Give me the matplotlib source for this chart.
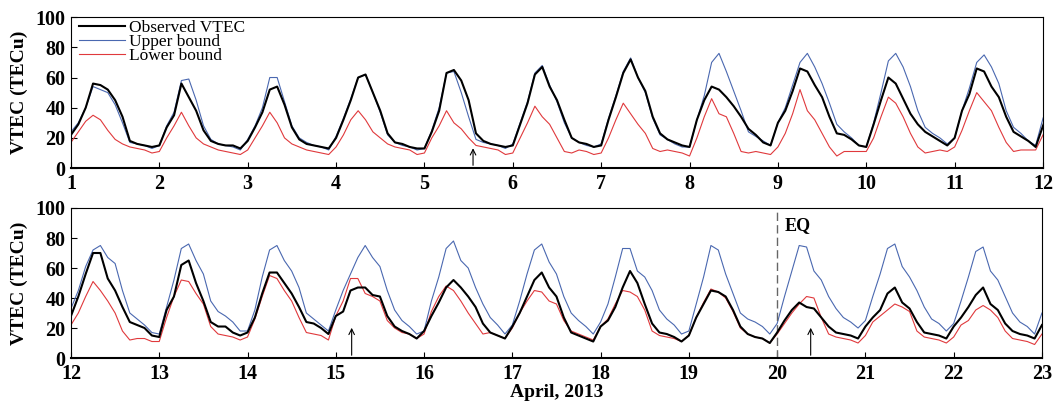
import numpy as np
import matplotlib.pyplot as plt

# 2-hourly VTEC values (TECu), 1-23 April 2013, 12 samples per day + last point
observed = [
    22, 29, 40, 56, 55, 52, 45, 34, 18, 16, 15, 14,   # 1
    15, 27, 35, 56, 47, 38, 25, 18, 16, 15, 15, 13,   # 2
    18, 27, 37, 52, 54, 42, 27, 19, 16, 15, 14, 13,   # 3
    20, 32, 45, 60, 62, 50, 38, 23, 17, 16, 14, 13,   # 4
    13, 24, 38, 63, 65, 58, 45, 23, 18, 16, 15, 14,   # 5
    15, 29, 43, 62, 67, 54, 45, 32, 20, 17, 16, 14,   # 6
    15, 32, 47, 63, 72, 60, 51, 34, 23, 19, 17, 15,   # 7
    14, 32, 45, 54, 52, 47, 41, 34, 26, 22, 17, 15,   # 8
    30, 38, 51, 66, 64, 55, 47, 34, 23, 22, 19, 15,   # 9
    14, 29, 45, 60, 56, 46, 36, 29, 24, 21, 18, 15,   # 10
    20, 38, 49, 66, 64, 54, 47, 34, 24, 21, 18, 14,   # 11
    28, 41, 56, 70, 70, 53, 45, 34, 24, 22, 20, 15,   # 12
    14, 32, 41, 62, 65, 50, 38, 24, 21, 21, 17, 15,   # 13
    17, 27, 43, 57, 57, 50, 43, 34, 24, 23, 20, 16,   # 14
    28, 31, 45, 47, 47, 42, 41, 28, 21, 18, 16, 13,   # 15
    18, 28, 37, 47, 52, 47, 41, 34, 23, 17, 15, 13,   # 16
    21, 30, 41, 52, 57, 47, 41, 27, 17, 15, 13, 11,   # 17
    21, 25, 34, 47, 58, 50, 36, 23, 17, 16, 14, 11,   # 18
    15, 27, 36, 45, 44, 41, 32, 21, 16, 14, 13, 10,   # 19
    17, 25, 32, 37, 34, 33, 27, 21, 17, 16, 15, 13,   # 20
    21, 27, 32, 43, 47, 37, 33, 24, 17, 16, 15, 13,   # 21
    21, 27, 34, 42, 47, 36, 32, 23, 18, 16, 15, 13,   # 22
    22,
]
upper = [
    24, 30, 40, 54, 52, 50, 42, 30, 17, 16, 15, 13,
    15, 28, 37, 58, 59, 45, 28, 19, 16, 15, 14, 12,
    19, 28, 40, 60, 60, 44, 28, 20, 17, 15, 14, 12,
    21, 33, 46, 60, 62, 50, 37, 22, 17, 15, 14, 12,
    13, 25, 40, 63, 64, 50, 34, 19, 17, 16, 15, 13,
    16, 30, 44, 63, 68, 55, 44, 30, 20, 17, 15, 14,
    16, 33, 48, 64, 73, 60, 50, 33, 22, 19, 16, 14,
    14, 32, 48, 70, 76, 64, 51, 38, 24, 21, 18, 15,
    30, 40, 55, 70, 76, 67, 56, 43, 29, 24, 20, 15,
    14, 30, 50, 71, 76, 67, 54, 38, 27, 23, 20, 16,
    20, 38, 53, 70, 75, 67, 56, 38, 27, 23, 18, 15,
    33, 45, 61, 72, 75, 67, 63, 45, 30, 26, 22, 17,
    16, 34, 52, 73, 76, 65, 56, 38, 31, 28, 24, 18,
    18, 32, 54, 72, 75, 65, 58, 47, 30, 26, 22, 18,
    32, 45, 56, 67, 75, 67, 61, 45, 32, 25, 21, 16,
    18, 38, 54, 73, 78, 65, 60, 47, 36, 27, 22, 16,
    22, 38, 56, 72, 76, 64, 56, 41, 30, 25, 21, 16,
    24, 36, 54, 73, 73, 58, 54, 45, 32, 26, 22, 16,
    18, 36, 54, 75, 72, 56, 43, 30, 26, 24, 21, 16,
    23, 41, 58, 75, 74, 58, 52, 41, 33, 27, 24, 20,
    25, 41, 56, 73, 76, 61, 54, 45, 34, 26, 23, 18,
    23, 38, 54, 71, 74, 58, 52, 41, 30, 24, 21, 16,
    30,
]
lower = [
    17, 24, 31, 35, 32, 25, 19, 16, 14, 13, 12, 10,
    11, 20, 28, 37, 28, 20, 16, 14, 12, 11, 10, 9,
    12, 20, 28, 37, 30, 20, 16, 14, 12, 11, 10, 9,
    14, 22, 32, 38, 32, 24, 20, 16, 14, 13, 12, 9,
    10, 20, 28, 38, 30, 26, 20, 15, 14, 13, 12, 9,
    10, 20, 30, 41, 34, 29, 20, 11, 10, 12, 11, 9,
    10, 20, 32, 43, 36, 29, 23, 13, 11, 12, 11, 10,
    8, 20, 34, 46, 36, 34, 23, 11, 10, 11, 10, 9,
    14, 23, 36, 52, 38, 32, 23, 14, 8, 11, 11, 11,
    11, 20, 34, 47, 43, 34, 23, 14, 10, 11, 12, 11,
    14, 25, 38, 50, 44, 38, 27, 17, 11, 12, 12, 12,
    22, 30, 41, 51, 45, 38, 30, 18, 12, 13, 13, 11,
    11, 27, 41, 52, 51, 43, 36, 21, 16, 15, 14, 12,
    14, 26, 41, 55, 53, 45, 38, 27, 17, 16, 15, 12,
    28, 38, 53, 53, 43, 41, 38, 25, 20, 17, 16, 13,
    16, 31, 41, 48, 45, 38, 30, 23, 16, 17, 15, 13,
    20, 30, 38, 45, 44, 38, 36, 25, 18, 16, 14, 12,
    21, 26, 36, 45, 44, 41, 32, 18, 15, 14, 13, 11,
    15, 27, 37, 46, 44, 40, 31, 20, 16, 14, 13, 10,
    16, 23, 30, 36, 41, 40, 27, 16, 14, 13, 12, 10,
    15, 24, 28, 32, 36, 34, 31, 18, 14, 13, 12, 10,
    14, 22, 25, 32, 35, 32, 27, 18, 13, 12, 11, 9,
    16,
]
top_days = list(range(1, 13))
bottom_days = list(range(12, 24))
eq_day = 20
arrow_days = [5.55, 15.18, 20.38]

day = 1 + np.arange(len(observed)) / 12.0

plt.rcParams['font.family'] = ['Liberation Serif', 'DejaVu Serif']

fig = plt.figure(figsize=(10.56, 4.08), dpi=100)
ax1 = fig.add_axes([0.0672, 0.588, 0.9205, 0.370])
ax2 = fig.add_axes([0.0672, 0.1225, 0.9195, 0.3677])

blue = '#4a68b0'
red = '#e0393c'

for ax, days in [(ax1, top_days), (ax2, bottom_days)]:
    ax.plot(day, upper, color=blue, lw=0.8, label='Upper bound', zorder=2)
    ax.plot(day, lower, color=red, lw=0.8, label='Lower bound', zorder=2)
    ax.plot(day, observed, color='black', lw=1.5, label='Observed VTEC', zorder=3)
    ax.set_xlim(days[0], days[-1])
    ax.set_ylim(0, 100)
    ax.set_xticks(days)
    ax.set_yticks([0, 20, 40, 60, 80, 100])
    ax.tick_params(direction='in', length=4, labelsize=14.5, pad=4)
    for lbl in ax.get_xticklabels() + ax.get_yticklabels():
        lbl.set_fontweight('bold')
    ax.set_ylabel('VTEC (TECu)', fontsize=14, fontweight='bold', labelpad=5)
    ax.spines['bottom'].set_linewidth(1.5)

# legend in the upper panel (observed first)
h, l = ax1.get_legend_handles_labels()
ax1.legend([h[2], h[0], h[1]], [l[2], l[0], l[1]], loc='upper left',
           bbox_to_anchor=(0.006, 1.0), frameon=False, fontsize=12.5,
           handlelength=2.6, labelspacing=-0.12, borderaxespad=0.0,
           borderpad=0.15, handletextpad=0.25)

# earthquake marker
ax2.axvline(eq_day, color='#666666', lw=1.0, ls=(0, (6, 3)))
ax2.text(eq_day + 0.08, 88, 'EQ', fontsize=13, fontweight='bold', va='center')

# arrows marking anomalies
ax1.annotate('', xy=(arrow_days[0], 15), xytext=(arrow_days[0], 0),
             arrowprops=dict(arrowstyle='->', lw=0.8, color='black'))
for d in arrow_days[1:]:
    ax2.annotate('', xy=(d, 22), xytext=(d, 0),
                 arrowprops=dict(arrowstyle='->', lw=0.8, color='black'))

ax2.set_xlabel('April, 2013', fontsize=14, fontweight='bold', labelpad=0)

fig.savefig('out.png', dpi=100)
